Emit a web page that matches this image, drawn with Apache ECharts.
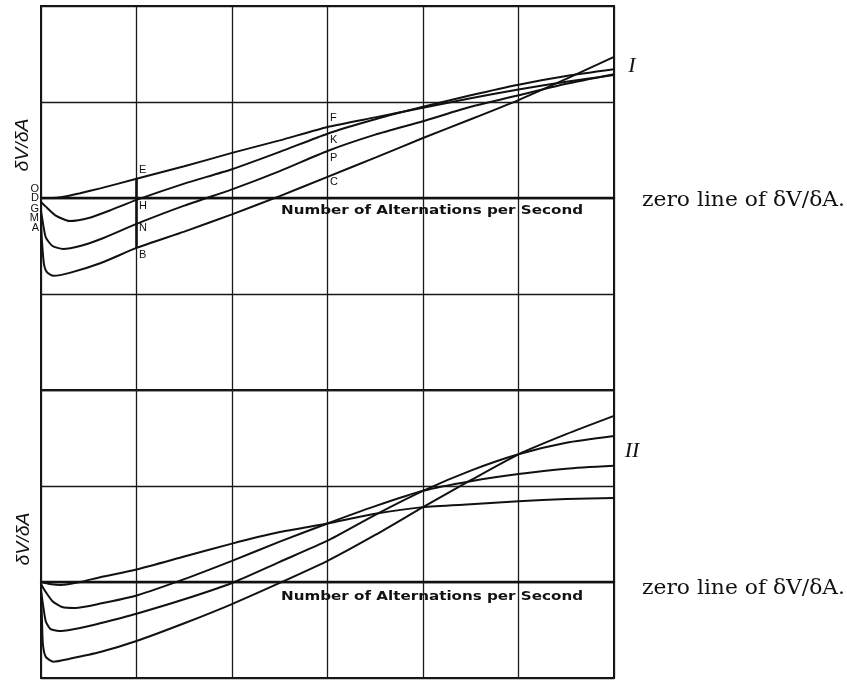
<!DOCTYPE html>
<html>
<head>
<meta charset="utf-8">
<script src="https://cdn.jsdelivr.net/npm/echarts@6/dist/echarts.min.js"></script>
<style>html,body{margin:0;padding:0;background:#fff}#c{width:847px;height:681px}</style>
</head>
<body>
<div id="c"></div>
<script>
// x in grid-cell units (number of alternations per second, arbitrary scale); y = δV/δA in cell units

// Diagram I (upper) — curves O-E-F, D-H-K, G-N-P, A-B-C
const topOEF = [[0,0],[0.12,0],[0.22,0.01],[0.41,0.05],[0.62,0.10],[1,0.20],[1.5,0.33],[2,0.47],[2.5,0.60],[3,0.74],[3.5,0.84],[4,0.94],[4.5,1.04],[5,1.13],[5.5,1.21],[6,1.28]];
const topDHK = [[0,-0.04],[0.05,-0.09],[0.15,-0.18],[0.30,-0.24],[0.51,-0.205],[0.72,-0.13],[1,-0.02],[1.5,0.15],[2,0.30],[2.5,0.48],[3,0.67],[3.5,0.82],[4,0.95],[4.5,1.07],[5,1.18],[5.5,1.27],[6,1.34]];
const topGNP = [[0,-0.135],[0.02,-0.26],[0.05,-0.41],[0.12,-0.50],[0.23,-0.53],[0.41,-0.50],[0.62,-0.43],[1,-0.27],[1.5,-0.08],[2,0.09],[2.5,0.28],[3,0.49],[3.5,0.66],[4,0.80],[4.5,0.95],[5,1.07],[5.5,1.19],[6,1.29]];
const topABC = [[0,-0.26],[0.01,-0.45],[0.03,-0.68],[0.06,-0.77],[0.13,-0.81],[0.30,-0.78],[0.62,-0.68],[1,-0.52],[1.5,-0.35],[2,-0.17],[2.5,0.02],[3,0.22],[3.5,0.42],[4,0.625],[4.5,0.82],[5,1.02],[5.5,1.24],[6,1.47]];

// Diagram II (lower)
const botA = [[0,0],[0.09,-0.02],[0.21,-0.03],[0.41,0],[0.62,0.05],[1,0.13],[1.5,0.265],[2,0.40],[2.5,0.52],[3,0.61],[3.5,0.71],[4,0.78],[4.5,0.81],[5,0.84],[5.5,0.865],[6,0.875]];
const botB = [[0,-0.02],[0.04,-0.09],[0.12,-0.20],[0.22,-0.26],[0.36,-0.27],[0.62,-0.225],[1,-0.14],[1.5,0.03],[2,0.22],[2.5,0.42],[3,0.61],[3.5,0.79],[4,0.95],[4.5,1.05],[5,1.125],[5.5,1.18],[6,1.21]];
const botC = [[0,-0.09],[0.02,-0.23],[0.05,-0.41],[0.10,-0.49],[0.21,-0.51],[0.41,-0.48],[0.62,-0.43],[1,-0.33],[1.5,-0.18],[2,-0.01],[2.5,0.21],[3,0.43],[3.5,0.70],[4,0.95],[4.5,1.16],[5,1.33],[5.5,1.45],[6,1.52]];
const botD = [[0,-0.09],[0.01,-0.385],[0.02,-0.65],[0.05,-0.78],[0.13,-0.83],[0.30,-0.80],[0.62,-0.73],[1,-0.615],[1.5,-0.43],[2,-0.23],[2.5,-0.01],[3,0.22],[3.5,0.49],[4,0.78],[4.5,1.06],[5,1.33],[5.5,1.54],[6,1.73]];

const axisLabelLeft = ['O','D','G','M','A'];
const pointLabelsE = ['E','H','N','B'];
const pointLabelsF = ['F','K','P','C'];
const xTitle = 'Number of Alternations per Second';
const yTitle = 'δV/δA';
const zeroText = 'zero line of δV/δA.';

const chart = echarts.init(document.getElementById('c'), null, {renderer:'canvas'});
const ctx = document.createElement('canvas').getContext('2d');
function sx(text, font, target){ ctx.font = font; return target / ctx.measureText(text).width; }
function yAt(arr, x){ const p = arr.find(d=>d[0]===x); return p ? p[1] : 0; }

const gridLine = {show:true, lineStyle:{color:'#1a1a1a', width:1.3}};
function xAx(i){ return {gridIndex:i, type:'value', min:0, max:6, interval:1,
  axisLine:{show:true, onZero:true, lineStyle:{color:'#111', width:2.4}}, axisTick:{show:false}, axisLabel:{show:false}, splitLine:gridLine}; }
function yAx(i, mn, mx){ return {gridIndex:i, type:'value', min:mn, max:mx, interval:1,
  axisLine:{show:false}, axisTick:{show:false}, axisLabel:{show:false}, splitLine:gridLine}; }
function ser(data, gi){ return {type:'line', xAxisIndex:gi, yAxisIndex:gi, data:data, smooth:0.2,
  showSymbol:false, silent:true, lineStyle:{color:'#111', width:2}}; }

// bold ordinate E–B in diagram I
const s0 = ser(topOEF,0);
s0.markLine = {silent:true, symbol:['none','none'], label:{show:false}, lineStyle:{color:'#111', width:2.6, type:'solid'},
  data:[[{coord:[1, yAt(topOEF,1)]},{coord:[1, yAt(topABC,1)]}]]};

const fTitle = 'bold 12.5px "DejaVu Sans"';
const fZero = '20px "DejaVu Serif"';
const fY = 'italic 18px "Liberation Sans"';
const fLab = '11px "Liberation Sans"';

const graphic = [];
[211, 597].forEach((y)=>{
  graphic.push({type:'text', x:281, y:y, scaleX:sx(xTitle, fTitle, 302), style:{text:xTitle, font:fTitle, fill:'#111', textAlign:'left', textVerticalAlign:'middle'}});
});
[201, 589].forEach((y)=>{
  graphic.push({type:'text', x:642, y:y, scaleX:sx(zeroText, fZero, 203), style:{text:zeroText, font:fZero, fill:'#111', textAlign:'left', textVerticalAlign:'middle'}});
});
[[23,145],[24,539]].forEach(([x,y])=>{
  graphic.push({type:'text', x:x, y:y, rotation:Math.PI/2, scaleX:sx(yTitle, fY, 53), style:{text:yTitle, font:fY, fill:'#111', textAlign:'center', textVerticalAlign:'middle'}});
});
graphic.push({type:'text', x:632, y:66, style:{text:'I', font:'italic 22px "Liberation Serif"', fill:'#111', textAlign:'center', textVerticalAlign:'middle'}});
graphic.push({type:'text', x:632, y:451, style:{text:'II', font:'italic 22px "Liberation Serif"', fill:'#111', textAlign:'center', textVerticalAlign:'middle'}});
const leftY = [189,198,209,218,228];
axisLabelLeft.forEach((t,i)=>graphic.push({type:'text', x:39, y:leftY[i], style:{text:t, font:fLab, fill:'#111', textAlign:'right', textVerticalAlign:'middle'}}));
const eY = [170,206,228,255], fYs = [118,140,158,182];
pointLabelsE.forEach((t,i)=>graphic.push({type:'text', x:139, y:eY[i], style:{text:t, font:fLab, fill:'#111', textAlign:'left', textVerticalAlign:'middle'}}));
pointLabelsF.forEach((t,i)=>graphic.push({type:'text', x:330, y:fYs[i], style:{text:t, font:fLab, fill:'#111', textAlign:'left', textVerticalAlign:'middle'}}));

chart.setOption({
  backgroundColor:'#fff',
  animation:false,
  grid:[
    {left:41, top:6, width:573, height:384, show:true, borderColor:'#111', borderWidth:2, containLabel:false},
    {left:41, top:390, width:573, height:288, show:true, borderColor:'#111', borderWidth:2, containLabel:false}
  ],
  xAxis:[xAx(0), xAx(1)],
  yAxis:[yAx(0,-2,2), yAx(1,-1,2)],
  series:[s0, ser(topDHK,0), ser(topGNP,0), ser(topABC,0), ser(botA,1), ser(botB,1), ser(botC,1), ser(botD,1)],
  graphic:graphic
});
</script>
</body>
</html>
